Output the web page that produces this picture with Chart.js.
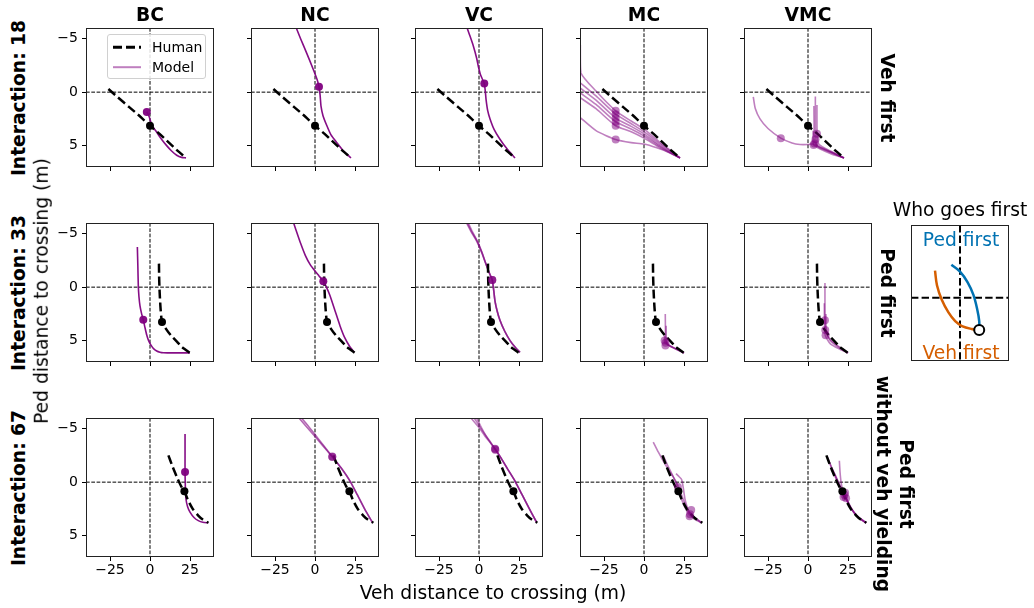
<!DOCTYPE html>
<html><head><meta charset="utf-8">
<script src="https://cdn.jsdelivr.net/npm/chart.js@4.4.1/dist/chart.umd.min.js"></script>
<style>
html,body{margin:0;padding:0;background:#fff;}
#fig{position:relative;width:1034px;height:608px;overflow:hidden;font-family:"DejaVu Sans",sans-serif;color:#000;}
canvas{position:absolute;}
.lbl{position:absolute;white-space:pre;line-height:1.2;text-align:center;z-index:5;}
</style></head><body><div id="fig"></div><script>
// ---------- tick labels / limits / titles ----------
const xTicks = [-25, 0, 25];
const yTicks = [-5, 0, 5];
const xLim = [-40, 40];
const yLim = [-6, 7];
const colNames = ['BC', 'NC', 'VC', 'MC', 'VMC'];
const rowNames = ['Interaction: 18', 'Interaction: 33', 'Interaction: 67'];
const rowSide = ['Veh first', 'Ped first', 'Ped first\nwithout veh yielding'];
const refX = [0];
const refY = [0];

// ---------- Interaction 18 ----------
const human18 = [[-26,-0.3],[-20,0.5],[-13,1.4],[-6,2.3],[0,3.15],[6,3.9],[12,4.75],[17,5.45],[22.5,6.15]];
const humanDot18 = [0,3.15];
const bc18 = [[-2,1.85],[-0.5,2.3],[1.2,3.1],[4.2,3.75],[7.2,4.4],[10.4,5.0],[13.5,5.5],[16.7,5.9],[19.8,6.1],[22.5,6.15]];
const bc18Dot = [-2,1.85];
const nc18 = [[-13,-6.5],[-9,-5],[-5.2,-3.65],[-1,-2.1],[1.5,-1.1],[2.5,-0.5],[3.2,0.3],[3.75,1.3],[5,2.2],[7.3,3.1],[10,4],[13.5,4.7],[17.5,5.45],[22.5,6.15]];
const nc18Dot = [2.5,-0.5];
const vc18 = [[-8.6,-6.5],[-6,-5.4],[-3.5,-4.3],[-1.5,-3.2],[-0.4,-2.4],[1,-1.6],[3.3,-0.8],[4.0,0],[4.4,0.67],[5.4,1.7],[6.9,2.5],[9.5,3.5],[13.1,4.4],[17.5,5.3],[22.5,6.15]];
const vc18Dot = [3.3,-0.8];
const mc18a = [[-39.8,-4.4],[-39.4,-1.8],[-30,-0.1],[-17.7,1.75],[-8,2.7],[0,3.45],[10,4.7],[17,5.5],[22.5,6.15]];
const mc18b = [[-40,-0.9],[-30,0.35],[-17.7,2.06],[-8,2.95],[0,3.7],[10,4.85],[17,5.55],[22.5,6.15]];
const mc18c = [[-40,-0.4],[-30,0.75],[-17.7,2.42],[-8,3.2],[0,3.9],[10,5.0],[17,5.65],[22.5,6.15]];
const mc18d = [[-40,0.05],[-30,1.15],[-17.7,2.77],[-8,3.45],[0,4.1],[10,5.1],[17,5.7],[22.5,6.15]];
const mc18e = [[-40,0.5],[-30,1.55],[-17.7,3.14],[-8,3.7],[0,4.3],[10,5.2],[17,5.75],[22.5,6.15]];
const mc18f = [[-40,2.36],[-30,3.6],[-17.7,4.43],[-8,4.72],[0,4.85],[8,5.2],[15,5.6],[22.5,6.15]];
const mc18Dots = [[-17.7,1.75],[-17.7,2.06],[-17.7,2.42],[-17.7,2.77],[-17.7,3.14],[-17.7,4.43]];
const vmc18a = [[-34.2,0.45],[-33,1.5],[-30,2.5],[-25,3.4],[-17,4.3],[-10,4.75],[-5,4.9],[0,4.9],[3,4.85],[8,5.2],[14,5.6],[22.5,6.15]];
const vmc18b = [[4.6,0.4],[4.6,2],[4.7,3.8],[5.5,4.9],[10,5.3],[16,5.7],[22.5,6.15]];
const vmc18c = [[3.7,1.3],[3.8,3],[4,4.6],[6,5.1],[12,5.5],[22.5,6.15]];
const vmc18d = [[5.6,1.2],[5.6,3],[5.8,4.2],[7,4.9],[14,5.5],[22.5,6.15]];
const vmc18e = [[3.2,3.6],[3.4,4.9],[8,5.35],[15,5.8],[22.5,6.15]];
const vmc18Dots = [[-17,4.3],[4.7,4.4],[4,4.8],[5.6,3.9],[3.5,4.95]];

// ---------- Interaction 33 ----------
const human33 = [[5.6,-2.2],[5.7,-1],[5.9,0],[6.2,1],[6.7,2.2],[7.5,3.25],[10,3.9],[13,4.5],[16.5,5.05],[20,5.6],[25,6.15]];
const humanDot33 = [7.5,3.25];
const bc33 = [[-7.9,-3.75],[-7.6,-2],[-7.3,-0.1],[-6.9,0.9],[-6.25,1.75],[-5.3,2.45],[-4.2,3.05],[-3.1,3.8],[-2,4.5],[-1,4.95],[0.5,5.4],[2.2,5.75],[4.2,5.97],[6.2,6.08],[8.3,6.13],[15,6.15],[25,6.15]];
const bc33Dot = [-4.2,3.05];
const nc33 = [[-14.5,-6.5],[-12,-5.4],[-9,-4.1],[-6,-2.95],[-3,-2.1],[0,-1.5],[2.5,-1.05],[5.2,-0.56],[7,-0.05],[9.4,0.8],[12.5,2.2],[15.6,3.6],[18.5,4.7],[21.5,5.5],[24.5,6.1]];
const nc33Dot = [5.2,-0.56];
const vc33a = [[-9.5,-6.5],[-5,-5.2],[-1.5,-4.3],[1.5,-3.3],[3.75,-2.4],[6.5,-1.3],[8.3,-0.66],[9.2,0.3],[10,1.3],[11.3,2.2],[13.1,3.1],[16,4.1],[19.4,5.0],[22.5,5.6],[25.6,6.1]];
const vc33b = [[-8.2,-6.5],[-4.5,-5.3],[-1,-4.3],[2,-3.2],[4,-2.3],[6.6,-1.3],[8.3,-0.66],[9.2,0.3],[10,1.3],[11.3,2.2],[13.1,3.1],[16,4.1],[19.4,5.0],[22.5,5.6],[25.6,6.1]];
const vc33c = [[-9,-6.5],[-4.8,-5.25],[-1.2,-4.3],[1.8,-3.25],[3.9,-2.35],[6.5,-1.3],[8.3,-0.66],[9.2,0.3],[10,1.3],[11.3,2.2],[13.1,3.1],[16,4.1],[19.4,5.0],[22.5,5.6],[25.6,6.1]];
const vc33Dots = [[8.3,-0.66],[8.3,-0.66],[8.3,-0.66]];
const mc33a = [[13.3,2.5],[13.4,4],[13.5,5.0],[15,5.4],[19,5.7],[25,6.15]];
const mc33b = [[13.8,3.6],[13.9,4.8],[14.5,5.3],[20,5.8],[25,6.15]];
const mc33c = [[12.8,4.5],[13,5.2],[16,5.5],[25,6.15]];
const mc33Dots = [[13.5,5.2],[13.4,5.45],[12.9,5.0]];
const vmc33a = [[10.6,-0.4],[10.6,1.5],[10.7,3.2],[11.5,4.3],[14,5.0],[19,5.6],[25,6.15]];
const vmc33b = [[10.2,1.5],[10.3,3],[10.8,4.5],[14,5.3],[20,5.8],[25,6.15]];
const vmc33c = [[11.2,2.5],[11.3,3.8],[12.5,4.6],[16,5.2],[25,6.15]];
const vmc33Dots = [[10.6,3.1],[10.8,4.0],[11.0,4.5]];

// ---------- Interaction 67 ----------
const human67 = [[11.5,-2.5],[14,-1.5],[17,-0.4],[19.5,0.4],[21.5,0.85],[23.5,1.6],[26.7,2.5],[30,3.1],[33,3.5],[36.5,3.8]];
const humanDot67 = [21.5,0.85];
const bc67 = [[21.9,-4.5],[21.9,-2.5],[21.9,-0.94],[22.1,0.5],[22.5,1.6],[23.5,2.3],[25,2.8],[27.5,3.3],[30.2,3.6],[33,3.75],[36.5,3.8]];
const bc67Dot = [21.9,-0.94];
const nc67a = [[-13.5,-6.6],[-6,-5.3],[0,-4.27],[5.5,-3.3],[10.8,-2.36],[16.5,-1.3],[21.9,-0.1],[26.5,1.2],[31,2.5],[36,3.8]];
const nc67b = [[-12,-6.6],[-5,-5.4],[0,-4.45],[5.5,-3.4],[10.8,-2.4],[16.5,-1.3],[21.9,-0.1],[26.5,1.2],[31,2.5],[36,3.8]];
const nc67Dots = [[10.8,-2.36],[10.8,-2.4]];
const vc67a = [[-8.5,-6.6],[-5.6,-6.1],[0,-5.1],[3.75,-4.3],[7,-3.7],[10,-3.13],[14,-2.2],[18,-1.2],[22.5,-0.1],[27,1.2],[31.5,2.5],[36,3.75]];
const vc67b = [[-6,-6.6],[-3,-6.0],[0,-5.3],[3.75,-4.45],[7,-3.8],[10,-3.1],[14,-2.2],[18,-1.2],[22.5,-0.1],[27,1.2],[31.5,2.5],[36,3.75]];
const vc67c = [[-4,-6.6],[-1.5,-6],[1.5,-5.1],[4.5,-4.3],[7.5,-3.6],[10,-3.1],[14,-2.2],[18,-1.2],[22.5,-0.1],[27,1.2],[31.5,2.5],[36,3.75]];
const vc67Dots = [[10,-3.13],[10,-3.1],[10.3,-3.0]];
const mc67a = [[5.8,-3.75],[9,-2.8],[12.5,-1.85],[16,-1.0],[18.5,-0.45],[20.4,0.05],[22,0.6],[24,1.4],[26.5,2.3],[29,2.9],[32.5,3.4],[36,3.8]];
const mc67b = [[20,-0.8],[22,-0.5],[23.5,-0.25],[24.5,0.5],[25.5,1.5],[26.7,2.2],[28.5,2.9],[31.5,3.3],[36,3.8]];
const mc67c = [[12,-2.5],[15,-1.5],[18,-0.6],[20.5,0.3],[22,1.0],[24.5,2.0],[27.5,2.9],[31,3.4],[36,3.8]];
const mc67Dots = [[21.2,0.45],[28.8,3.0],[28.5,3.2],[29.5,2.6]];
const vmc67a = [[12,-2.4],[14,-1.6],[16.5,-0.8],[19,0],[21,0.6],[23,1.3],[25.5,2.1],[28.5,2.8],[32,3.4],[36.3,3.8]];
const vmc67b = [[19.6,-2.0],[20,-1],[20.7,0.05],[21.8,0.8],[23.5,1.4],[26,2.2],[30,3.1],[36.3,3.8]];
const vmc67c = [[13,-2.0],[15,-1.3],[17.5,-0.5],[20,0.4],[22.5,1.2],[25,1.9],[28,2.7],[32,3.35],[36.3,3.8]];
const vmc67d = [[14.5,-1.2],[17,-0.5],[19.5,0.3],[22,1.0],[24,1.5],[27,2.4],[31,3.2],[36.3,3.8]];
const vmc67Dots = [[22.8,1.2],[23.2,1.0],[22.2,1.4],[23.8,1.5]];

// ---------- inset "Who goes first" ----------
const insetXLim = [-50, 50];
const insetYLim = [-75, 65];
const insetVeh = [[-25.5,-28],[-23.5,-13],[-18.6,2],[-11.8,15],[-4.9,24],[2,29],[11.8,32],[19.6,33]];
const insetPed = [[-8.8,-34],[0,-27],[7.8,-16],[13.7,-3],[17.6,12],[19.6,24],[19.6,33]];
const insetEnd = [19.6,33];

// ---------- layout ----------
const colLeft = [86, 251, 415, 580, 744];
const rowTop = [28, 223, 418];
const plotW = 128, plotH = 139;
const PAD_L = 45, PAD_T = 14, PAD_R = 6, PAD_B = 26;
const PURPLE = a => `rgba(128,0,128,${a})`;

const panels = [
  {row:0,col:0,human:human18,hDot:humanDot18,lines:[bc18],dots:[bc18Dot],alpha:0.95},
  {row:0,col:1,human:human18,hDot:humanDot18,lines:[nc18],dots:[nc18Dot],alpha:0.95},
  {row:0,col:2,human:human18,hDot:humanDot18,lines:[vc18],dots:[vc18Dot],alpha:0.95},
  {row:0,col:3,human:human18,hDot:humanDot18,lines:[mc18a,mc18b,mc18c,mc18d,mc18e,mc18f],dots:mc18Dots,alpha:0.5},
  {row:0,col:4,human:human18,hDot:humanDot18,lines:[vmc18a,vmc18b,vmc18c,vmc18d,vmc18e],dots:vmc18Dots,alpha:0.5},
  {row:1,col:0,human:human33,hDot:humanDot33,lines:[bc33],dots:[bc33Dot],alpha:0.95},
  {row:1,col:1,human:human33,hDot:humanDot33,lines:[nc33],dots:[nc33Dot],alpha:0.95},
  {row:1,col:2,human:human33,hDot:humanDot33,lines:[vc33a,vc33b,vc33c],dots:vc33Dots,alpha:0.5},
  {row:1,col:3,human:human33,hDot:humanDot33,lines:[mc33a,mc33b,mc33c],dots:mc33Dots,alpha:0.5},
  {row:1,col:4,human:human33,hDot:humanDot33,lines:[vmc33a,vmc33b,vmc33c],dots:vmc33Dots,alpha:0.5},
  {row:2,col:0,human:human67,hDot:humanDot67,lines:[bc67],dots:[bc67Dot],alpha:0.95},
  {row:2,col:1,human:human67,hDot:humanDot67,lines:[nc67a,nc67b],dots:nc67Dots,alpha:0.6},
  {row:2,col:2,human:human67,hDot:humanDot67,lines:[vc67a,vc67b,vc67c],dots:vc67Dots,alpha:0.5},
  {row:2,col:3,human:human67,hDot:humanDot67,lines:[mc67a,mc67b,mc67c],dots:mc67Dots,alpha:0.5},
  {row:2,col:4,human:human67,hDot:humanDot67,lines:[vmc67a,vmc67b,vmc67c,vmc67d],dots:vmc67Dots,alpha:0.5},
];

Chart.defaults.font.family = "'DejaVu Sans', sans-serif";
const fig = document.getElementById('fig');
const pt = ([x, y]) => ({x, y});
const fmt = v => v < 0 ? '\u2212' + Math.abs(v) : String(v);

const boxPlugin = {
  id: 'box',
  afterDatasetsDraw(chart) {
    const {ctx, chartArea: a} = chart;
    ctx.save();
    ctx.strokeStyle = '#222';
    ctx.lineWidth = 1;
    ctx.strokeRect(a.left + 0.5, a.top + 0.5, a.width - 1, a.height - 1);
    ctx.restore();
  }
};

function axisOpts(isX, showLabels) {
  const ticksArr = isX ? xTicks : yTicks;
  const lim = isX ? xLim : yLim;
  return {
    type: 'linear', min: lim[0], max: lim[1], reverse: !isX,
    afterBuildTicks: s => { s.ticks = ticksArr.map(v => ({value: v})); },
    afterFit: s => { if (isX) s.height = PAD_B; else s.width = PAD_L; },
    grid: {display: true, drawOnChartArea: false, drawTicks: true, tickLength: 4, color: '#000', lineWidth: 1},
    border: {display: false},
    ticks: {autoSkip: false, maxRotation: 0, padding: isX ? 1 : 4, color: '#000',
            font: {size: 14, family: "'DejaVu Sans', sans-serif"},
            callback: v => showLabels ? fmt(v) : ''}
  };
}

function makePanel(p) {
  const W = PAD_L + plotW + PAD_R, H = PAD_T + plotH + PAD_B;
  const cv = document.createElement('canvas');
  cv.width = W; cv.height = H;
  cv.style.width = W + 'px'; cv.style.height = H + 'px';
  cv.style.left = (colLeft[p.col] - PAD_L) + 'px';
  cv.style.top = (rowTop[p.row] - PAD_T) + 'px';
  fig.appendChild(cv);
  const ds = [];
  ds.push({data: [pt(p.hDot)], showLine: false, pointRadius: 4, backgroundColor: '#000', borderColor: '#000', pointBorderWidth: 0, clip: 0});
  p.dots.forEach(d => ds.push({data: [pt(d)], showLine: false, pointRadius: 4, backgroundColor: PURPLE(p.alpha), borderColor: PURPLE(p.alpha), pointBorderWidth: 0, clip: 0}));
  ds.push({data: p.human.map(pt), showLine: true, borderColor: '#000', borderWidth: 2.5, borderDash: [9, 4], pointRadius: 0, tension: 0.2, clip: 0});
  p.lines.forEach(l => ds.push({data: l.map(pt), showLine: true, borderColor: PURPLE(p.alpha), borderWidth: 1.6, pointRadius: 0, tension: 0.2, clip: 0}));
  refX.forEach(v => ds.push({data: [{x: v, y: yLim[0]}, {x: v, y: yLim[1]}], showLine: true, borderColor: '#000', borderWidth: 1, borderDash: [3.7, 1.6], pointRadius: 0, clip: 0}));
  refY.forEach(v => ds.push({data: [{x: xLim[0], y: v}, {x: xLim[1], y: v}], showLine: true, borderColor: '#000', borderWidth: 1, borderDash: [3.7, 1.6], pointRadius: 0, clip: 0}));
  new Chart(cv, {
    type: 'scatter',
    data: {datasets: ds},
    options: {
      responsive: false, animation: false, devicePixelRatio: 1,
      layout: {padding: {top: PAD_T, right: PAD_R, left: 0, bottom: 0}},
      plugins: {legend: {display: false}, tooltip: {enabled: false}},
      scales: {x: axisOpts(true, p.row === 2), y: axisOpts(false, p.col === 0)}
    },
    plugins: [boxPlugin]
  });
}
panels.forEach(makePanel);

// ---------- inset ----------
(function () {
  const L = 909, T = 223, w = 102, h = 140, pad = 5;
  const cv = document.createElement('canvas');
  cv.width = w + 2 * pad; cv.height = h + 2 * pad;
  cv.style.width = cv.width + 'px'; cv.style.height = cv.height + 'px';
  cv.style.left = (L - pad) + 'px'; cv.style.top = (T - pad) + 'px';
  fig.appendChild(cv);
  const ds = [
    {data: [pt(insetEnd)], showLine: false, pointRadius: 5, pointBorderWidth: 2, borderColor: '#000', backgroundColor: '#fff', clip: 8},
    {data: insetPed.map(pt), showLine: true, borderColor: '#0072B2', borderWidth: 2.5, pointRadius: 0, tension: 0.35},
    {data: insetVeh.map(pt), showLine: true, borderColor: '#D55E00', borderWidth: 2.5, pointRadius: 0, tension: 0.35},
    {data: [{x: 0, y: insetYLim[0]}, {x: 0, y: insetYLim[1]}], showLine: true, borderColor: '#000', borderWidth: 2, borderDash: [7.4, 3.2], pointRadius: 0, clip: 0},
    {data: [{x: insetXLim[0], y: 0}, {x: insetXLim[1], y: 0}], showLine: true, borderColor: '#000', borderWidth: 2, borderDash: [7.4, 3.2], pointRadius: 0, clip: 0}
  ];
  new Chart(cv, {
    type: 'scatter',
    data: {datasets: ds},
    options: {
      responsive: false, animation: false, devicePixelRatio: 1,
      layout: {padding: pad},
      plugins: {legend: {display: false}, tooltip: {enabled: false}},
      scales: {
        x: {display: false, min: insetXLim[0], max: insetXLim[1]},
        y: {display: false, min: insetYLim[0], max: insetYLim[1], reverse: true}
      }
    },
    plugins: [boxPlugin]
  });
})();

// ---------- text ----------
function addLabel(text, cx, cy, o = {}) {
  const d = document.createElement('div');
  d.className = 'lbl';
  d.textContent = text;
  d.style.left = cx + 'px'; d.style.top = cy + 'px';
  d.style.fontSize = (o.size || 18.7) + 'px';
  d.style.fontWeight = o.bold ? 'bold' : 'normal';
  d.style.color = o.color || '#000';
  if (o.lh) d.style.lineHeight = o.lh;
  d.style.transform = `translate(-50%,-50%) rotate(${o.rot || 0}deg)`;
  fig.appendChild(d);
}
colNames.forEach((t, i) => addLabel(t, colLeft[i] + plotW / 2, 15, {bold: true}));
rowNames.forEach((t, i) => addLabel(t, 19, rowTop[i] + plotH / 2, {bold: true, rot: -90}));
addLabel(rowSide[0], 887, rowTop[0] + plotH / 2, {bold: true, rot: 90});
addLabel(rowSide[1], 887, rowTop[1] + plotH / 2, {bold: true, rot: 90});
addLabel(rowSide[2], 894.5, rowTop[2] + plotH / 2 - 4, {bold: true, rot: 90, lh: '23px'});
addLabel('Ped distance to crossing (m)', 42, 291, {rot: -90});
addLabel('Veh distance to crossing (m)', 493, 593);
addLabel('Who goes first', 960, 210);
addLabel('Ped first', 961, 240, {color: '#0072B2'});
addLabel('Veh first', 961, 353, {color: '#D55E00'});

// ---------- legend ----------
(function () {
  const lg = document.createElement('div');
  lg.style.cssText = 'position:absolute;left:107px;top:34px;width:99px;height:45px;border:1px solid #d0d0d0;border-radius:3px;background:rgba(255,255,255,0.85);z-index:4;box-sizing:border-box;';
  fig.appendChild(lg);
  const items = [
    {label: 'Human', y: 12, css: 'height:2.5px;background:repeating-linear-gradient(to right,#000 0 9px,transparent 9px 13px);'},
    {label: 'Model', y: 32, css: 'height:1.6px;background:rgba(128,0,128,0.5);'}
  ];
  items.forEach(it => {
    const s = document.createElement('div');
    s.style.cssText = `position:absolute;left:5px;top:${it.y}px;width:28px;transform:translateY(-50%);` + it.css;
    lg.appendChild(s);
    const t = document.createElement('div');
    t.textContent = it.label;
    t.style.cssText = `position:absolute;left:44px;top:${it.y}px;transform:translateY(-50%);font-size:14px;line-height:1;white-space:nowrap;`;
    lg.appendChild(t);
  });
})();
</script></body></html>
